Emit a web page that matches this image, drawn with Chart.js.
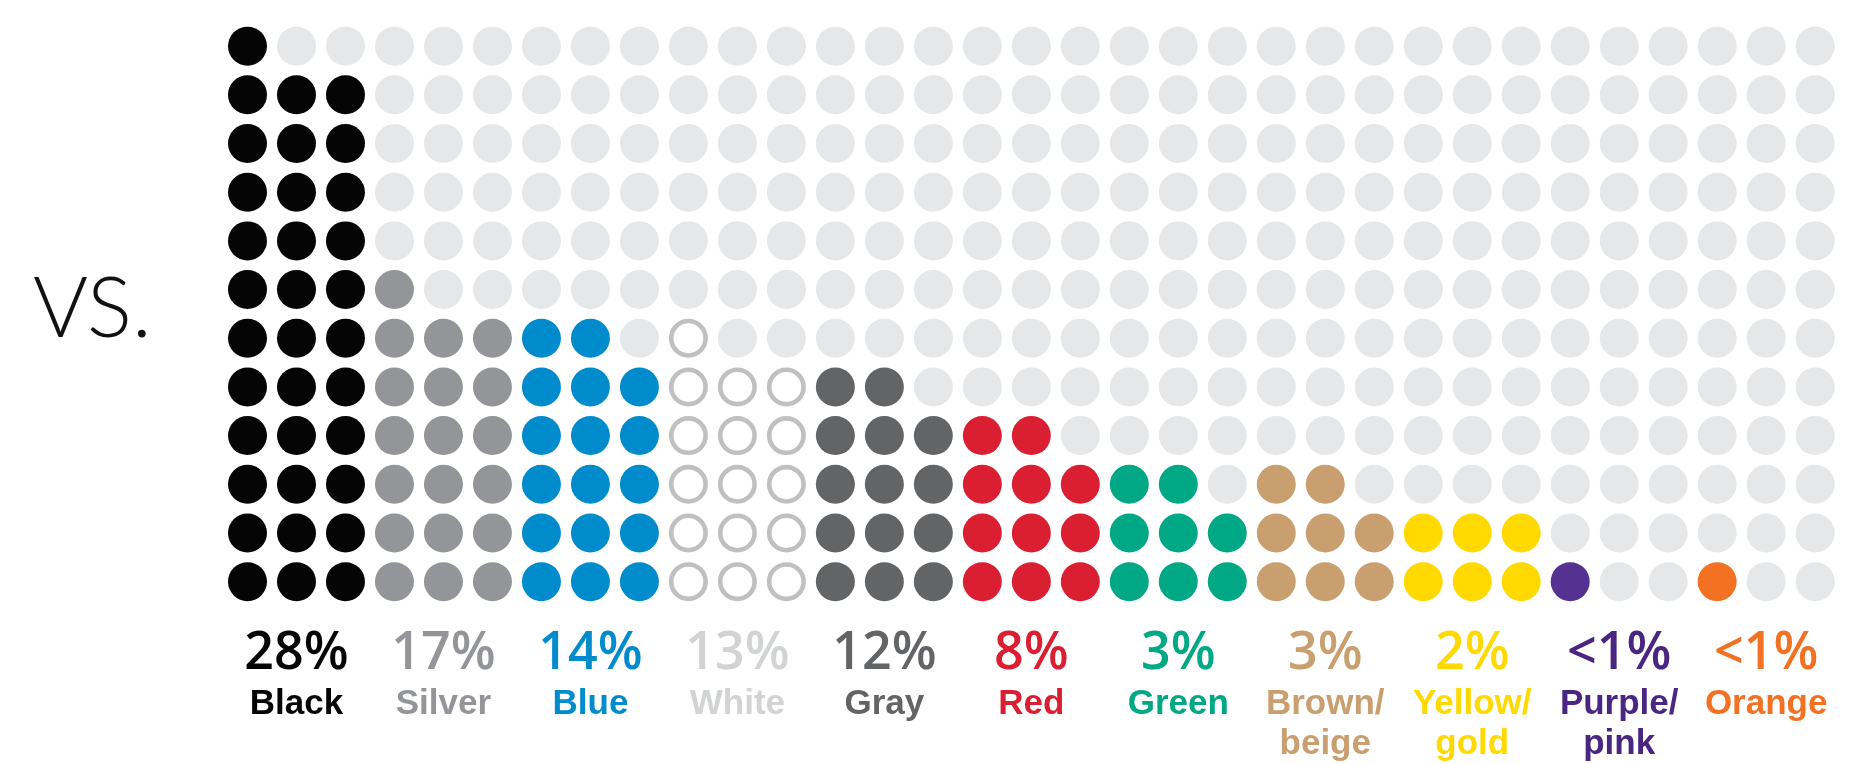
<!DOCTYPE html>
<html>
<head>
<meta charset="utf-8">
<script src="https://cdn.jsdelivr.net/npm/chart.js@4/dist/chart.umd.min.js"></script>
<style>
  html, body { margin: 0; padding: 0; background: #ffffff; }
  #wrap { width: 1859px; height: 764px; position: relative; }
</style>
</head>
<body>
<div id="wrap"><canvas id="c"></canvas></div>
<script>
// ---- data ----
const categories = ["Black", "Silver", "Blue", "White", "Gray", "Red", "Green", "Brown/\nbeige", "Yellow/\ngold", "Purple/\npink", "Orange"];
const percentLabels = ["28%", "17%", "14%", "13%", "12%", "8%", "3%", "3%", "2%", "<1%", "<1%"];
const dotCounts = [34, 19, 17, 16, 14, 11, 8, 8, 6, 1, 1];
const dotColors = ["#050505", "#939598", "#008ccc", "#ffffff", "#636466", "#da1f33", "#00a885", "#c99f6f", "#ffd900", "#553192", "#f37123"];
const labelColors = ["#050505", "#939598", "#008ccc", "#d1d3d4", "#636466", "#da1f33", "#00a885", "#c99f6f", "#ffd900", "#4b2582", "#f37123"];
const ringGroups = ["White"];
const rowsPerGroup = 12;
const colsPerGroup = 3;
const emptyColor = "#e6e7e8";
const ringColor = "#bfc0c2";
const sideText = "VS.";

// ---- build datasets from the data ----
const datasets = [];
const emptyPts = [];
categories.forEach((cat, g) => {
  const pts = [];
  const n = dotCounts[g];
  let k = 0;
  for (let r = rowsPerGroup - 1; r >= 0; r--) {
    for (let c = 0; c < colsPerGroup; c++) {
      const x = g * colsPerGroup + c;
      if (k < n) pts.push({ x: x, y: r });
      else emptyPts.push({ x: x, y: r });
      k++;
    }
  }
  const ring = ringGroups.includes(cat);
  datasets.push({
    label: cat,
    data: pts,
    pointRadius: ring ? 17.2 : 19.5,
    pointHoverRadius: ring ? 17.2 : 19.5,
    pointBackgroundColor: dotColors[g],
    pointBorderColor: ring ? ringColor : dotColors[g],
    pointBorderWidth: ring ? 4.6 : 0,
    pointHoverBorderWidth: ring ? 4.6 : 0,
    showLine: false
  });
});
datasets.unshift({
  label: "empty",
  data: emptyPts,
  pointRadius: 19.5,
  pointHoverRadius: 19.5,
  pointBackgroundColor: emptyColor,
  pointBorderWidth: 0,
  showLine: false
});

const labelPlugin = {
  id: "labelPlugin",
  afterDraw(chart) {
    const ctx = chart.ctx;
    const xs = chart.scales.x;
    ctx.save();
    ctx.textAlign = "center";
    ctx.textBaseline = "alphabetic";
    categories.forEach((cat, g) => {
      const cx = xs.getPixelForValue(g * colsPerGroup + 1);
      ctx.fillStyle = labelColors[g];
      ctx.font = "600 52px 'Open Sans', 'Liberation Sans', sans-serif";
      ctx.fillText(percentLabels[g], cx, 669);
      ctx.font = "bold 35px 'Liberation Sans', Arial, sans-serif";
      cat.split("\n").forEach((line, i) => {
        ctx.fillText(line, cx, 714 + i * 40);
      });
    });
    ctx.textAlign = "left";
    ctx.fillStyle = "#111111";
    ctx.font = "300 84px Lato, sans-serif";
    ctx.fillText(sideText, 33, 337);
    ctx.restore();
  }
};

new Chart(document.getElementById("c"), {
  type: "scatter",
  data: { datasets: datasets },
  options: {
    responsive: true,
    maintainAspectRatio: false,
    animation: false,
    events: [],
    layout: { padding: { left: 223, right: 2, top: 11, bottom: 158 } },
    plugins: { legend: { display: false }, tooltip: { enabled: false } },
    scales: {
      x: { type: "linear", min: -0.5, max: 32.45, display: false },
      y: { type: "linear", min: -0.5, max: 11.5, reverse: true, display: false }
    }
  },
  plugins: [labelPlugin]
});
</script>
</body>
</html>
